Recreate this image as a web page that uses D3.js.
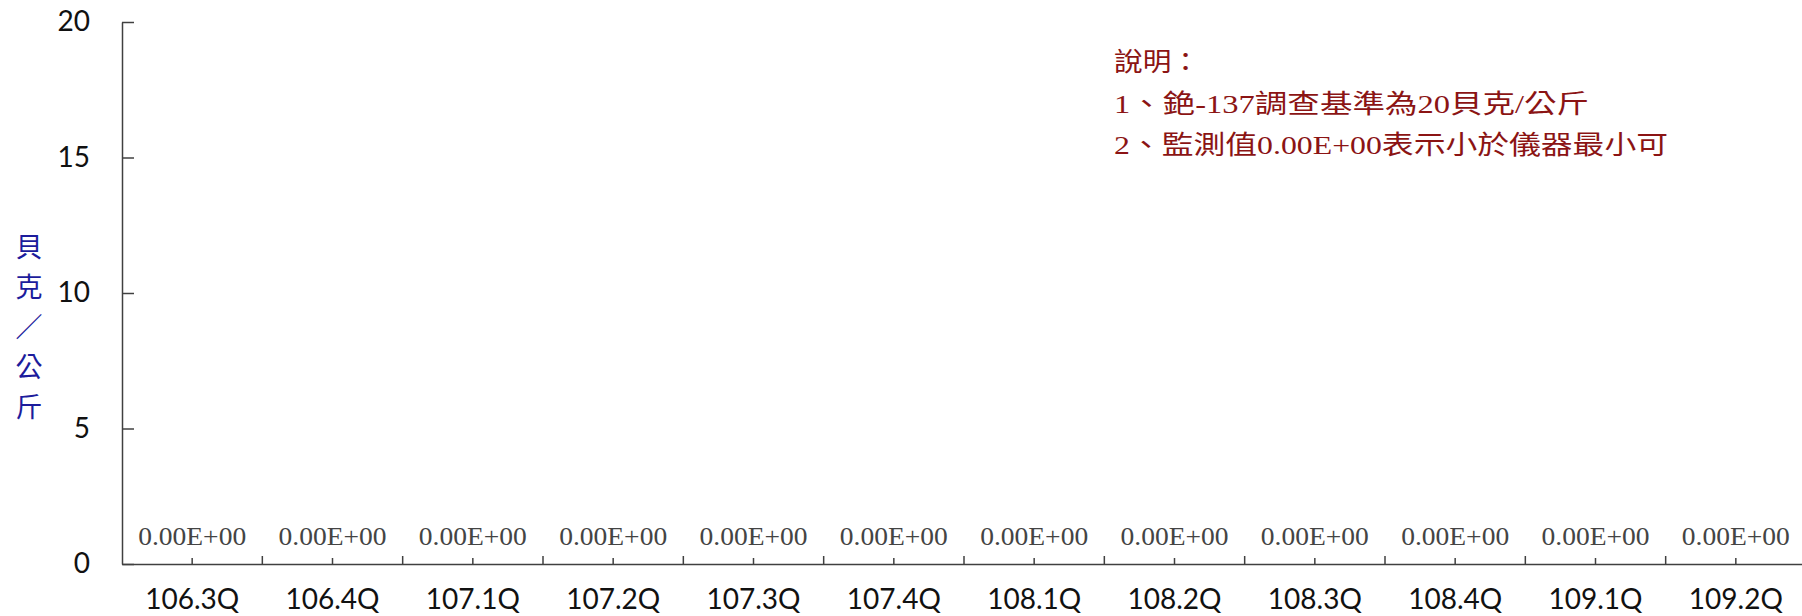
<!DOCTYPE html>
<html>
<head>
<meta charset="utf-8">
<script src="https://cdn.jsdelivr.net/npm/d3@7"></script>
<style>
  html, body { margin: 0; padding: 0; background: #fff; }
  svg { display: block; }
</style>
</head>
<body>
<svg id="chart" width="1802" height="616"></svg>
<script>
const categories = ["106.3Q","106.4Q","107.1Q","107.2Q","107.3Q","107.4Q","108.1Q","108.2Q","108.3Q","108.4Q","109.1Q","109.2Q"];
const values = [0,0,0,0,0,0,0,0,0,0,0,0];
const valueLabels = ["0.00E+00","0.00E+00","0.00E+00","0.00E+00","0.00E+00","0.00E+00","0.00E+00","0.00E+00","0.00E+00","0.00E+00","0.00E+00","0.00E+00"];
const yTicks = [0,5,10,15,20];
const yTitle = ["貝","克","／","公","斤"];
const noteLines = ["說明：","1、銫-137調查基準為20貝克/公斤","2、監測值0.00E+00表示小於儀器最小可"];
const noteWidths = [86, 475, 554];

const svg = d3.select("#chart");
const axisColor = "#404040";

const x = d3.scaleBand().domain(categories).range([122, 1806]).padding(0);
const y = d3.scaleLinear().domain([0, 20]).range([564, 22]);

// bars (zero height)
svg.append("g").selectAll("rect").data(values).join("rect")
  .attr("x", (d, i) => x(categories[i]) + x.bandwidth() * 0.2)
  .attr("width", x.bandwidth() * 0.6)
  .attr("y", d => y(d))
  .attr("height", d => y(0) - y(d))
  .attr("fill", "#4f81bd");

// value labels
svg.append("g").selectAll("text").data(valueLabels).join("text")
  .attr("x", (d, i) => x(categories[i]) + x.bandwidth() / 2)
  .attr("y", (d, i) => y(values[i]) - 19)
  .attr("text-anchor", "middle")
  .attr("font-family", "'Liberation Serif', 'Times New Roman', serif")
  .attr("font-size", 25)
  .attr("textLength", 108)
  .attr("lengthAdjust", "spacingAndGlyphs")
  .attr("fill", "#444")
  .text(d => d);

// y axis
const yAxis = svg.append("g")
  .attr("transform", "translate(122,0)")
  .call(d3.axisLeft(y).tickValues(yTicks).tickFormat(d3.format("d"))
    .tickSizeInner(-12).tickSizeOuter(0).tickPadding(32));
yAxis.select(".domain").attr("stroke", axisColor).attr("stroke-width", 1.5);
yAxis.selectAll(".tick line").attr("stroke", axisColor).attr("stroke-width", 1.5);
yAxis.selectAll(".tick text")
  .attr("font-family", "Lato, 'DejaVu Sans', sans-serif")
  .attr("font-size", 28)
  .attr("fill", "#111");

// x axis
const xAxis = svg.append("g")
  .attr("transform", "translate(0,564)")
  .call(d3.axisBottom(x).tickSizeInner(-6).tickSizeOuter(0).tickPadding(25));
xAxis.select(".domain").attr("stroke", axisColor).attr("stroke-width", 1.5);
xAxis.selectAll(".tick line").attr("stroke", axisColor).attr("stroke-width", 1.5);
xAxis.selectAll(".tick text")
  .attr("font-family", "Lato, 'DejaVu Sans', sans-serif")
  .attr("font-size", 28)
  .attr("fill", "#111");

// boundary ticks between categories
xAxis.append("g").selectAll("line").data(categories.slice(1)).join("line")
  .attr("x1", d => x(d)).attr("x2", d => x(d))
  .attr("y1", 0).attr("y2", -8)
  .attr("stroke", axisColor).attr("stroke-width", 1.5);

// y axis title (vertical)
svg.append("g").selectAll("text").data(yTitle).join("text")
  .attr("x", 29)
  .attr("y", (d, i) => 245 + i * 40)
  .attr("text-anchor", "middle")
  .attr("dominant-baseline", "central")
  .attr("font-family", "'Noto Sans CJK TC', sans-serif")
  .attr("font-size", 27)
  .attr("fill", "#1c1c9c")
  .text(d => d);

// note
svg.append("g").selectAll("text").data(noteLines).join("text")
  .attr("x", 1114)
  .attr("y", (d, i) => 71 + i * 41.5)
  .attr("font-family", "'Liberation Serif', 'Noto Sans CJK TC', serif")
  .attr("font-size", 26)
  .attr("textLength", (d, i) => noteWidths[i])
  .attr("lengthAdjust", "spacingAndGlyphs")
  .attr("fill", "#8b1414")
  .text(d => d);
</script>
</body>
</html>
